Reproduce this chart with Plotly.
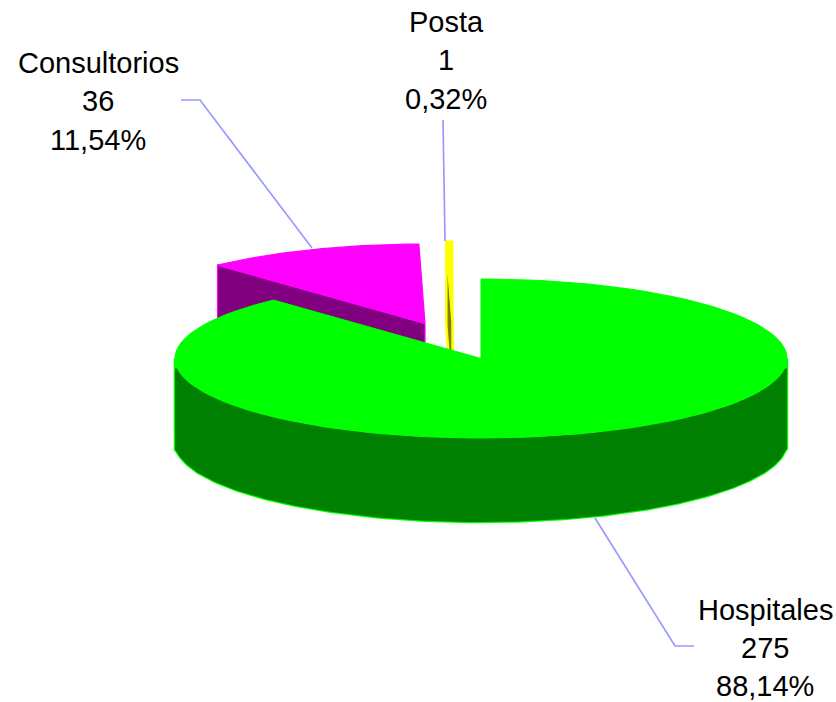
import numpy as np
import plotly.graph_objects as go

# ---- data ----
categories = ["Hospitales", "Consultorios", "Posta"]
counts = [275, 36, 1]

# ---- geometry and style ----
W, H = 836, 702
RX, RY, DEPTH = 306, 79.5, 84
CENTERS = {"Hospitales": (481, 358.5), "Consultorios": (425, 323.5), "Posta": (452.5, 321)}
TOP = {"Hospitales": "#00ff00", "Consultorios": "#ff00ff", "Posta": "#ffff00"}
SIDE = {"Hospitales": "#008000", "Consultorios": "#800080", "Posta": "#808000"}
LEADER = "#9999ff"
LABEL_POS = {"Hospitales": (765, [610, 648, 686]),
             "Consultorios": (98, [63, 101, 140]),
             "Posta": (446, [22, 60, 99])}
LEADERS = {"Hospitales": ([595, 675, 694], [518, 646, 646]),
           "Consultorios": ([181, 200, 312], [100, 100, 248]),
           "Posta": ([443, 445], [120, 241])}

total = sum(counts)
edges = np.cumsum([0] + counts) / total * 2 * np.pi
spans = {c: (edges[i], edges[i + 1]) for i, c in enumerate(categories)}


def rim(center, a):
    return center[0] + RX * np.sin(a), center[1] - RY * np.cos(a)


fig = go.Figure()


def poly(xs, ys, fill, line, width=1.0):
    fig.add_trace(go.Scatter(x=list(xs), y=list(ys), mode="lines", fill="toself",
                             fillcolor=fill, line=dict(color=line, width=width),
                             showlegend=False, hoverinfo="skip"))


def top_face(cat, width=1.0):
    c = CENTERS[cat]
    a0, a1 = spans[cat]
    a = np.linspace(a0, a1, 160)
    x, y = rim(c, a)
    poly(np.r_[c[0], x, c[0]], np.r_[c[1], y, c[1]], TOP[cat], TOP[cat], width)


def start_face(cat, width=1.0):
    c = CENTERS[cat]
    rx, ry = rim(c, spans[cat][0])
    poly([c[0], rx, rx, c[0], c[0]],
         [c[1], ry, ry + DEPTH, c[1] + DEPTH, c[1]], SIDE[cat], TOP[cat], width)


# back slices first, so that the big slice covers their lower parts
start_face("Consultorios", 1.2)
top_face("Consultorios", 1.2)
start_face("Posta", 2.5)
top_face("Posta", 2.0)

# front wall of the big slice: light outline shape, then the dark face inside it
c = CENTERS["Hospitales"]
a = np.linspace(np.pi / 2, min(1.5 * np.pi, spans["Hospitales"][1]), 200)
x, y = rim(c, a)
y_low = np.maximum(y + DEPTH, c[1] + DEPTH + 7)
poly(np.r_[x, x[::-1], x[0]], np.r_[y_low, y[::-1], y_low[0]], TOP["Hospitales"], TOP["Hospitales"], 2.5)
y_top = np.maximum(y, c[1] + 10)
poly(np.r_[x, x[::-1], x[0]], np.r_[y_low, y_top[::-1], y_low[0]], SIDE["Hospitales"], SIDE["Hospitales"], 0.1)
top_face("Hospitales", 1.0)

# leader lines
for cat in categories:
    lx, ly = LEADERS[cat]
    fig.add_trace(go.Scatter(x=lx, y=ly, mode="lines", line=dict(color=LEADER, width=1.7),
                             showlegend=False, hoverinfo="skip"))

# labels
for cat, n in zip(categories, counts):
    pct = f"{n / total * 100:.2f}%".replace(".", ",")
    px, pys = LABEL_POS[cat]
    for txt, py in zip([cat, str(n), pct], pys):
        fig.add_annotation(x=px, y=py, text=txt, showarrow=False, xanchor="center", yanchor="middle",
                           font=dict(family="Liberation Sans", size=29, color="#000000"))

fig.update_xaxes(range=[0, W], visible=False, fixedrange=True)
fig.update_yaxes(range=[H, 0], visible=False, fixedrange=True)
fig.update_layout(width=W, height=H, margin=dict(l=0, r=0, t=0, b=0),
                  paper_bgcolor="#ffffff", plot_bgcolor="#ffffff")
fig.write_html("out.html", include_plotlyjs=True, config={"displayModeBar": False},
               post_script="document.body.style.margin='0';document.documentElement.style.overflow='hidden';")
